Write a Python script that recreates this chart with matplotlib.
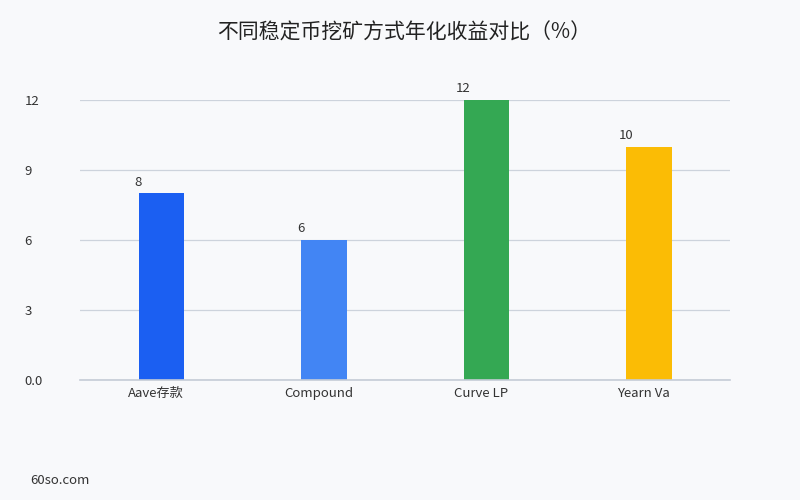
import matplotlib
matplotlib.use("Agg")
import matplotlib.pyplot as plt
from matplotlib.transforms import ScaledTranslation

plt.rcParams['font.family'] = ['Noto Sans CJK SC', 'DejaVu Sans']

categories = ["Aave存款", "Compound", "Curve LP", "Yearn Va"]
values = [8, 6, 12, 10]
colors = ["#1b5ff2", "#4285f4", "#34a853", "#fbbc05"]
yticks = [0, 3, 6, 9, 12]
yticklabels = ["0.0", "3", "6", "9", "12"]
title = "不同稳定币挖矿方式年化收益对比（%）"
footer = "60so.com"

bg = "#f8f9fb"
fig = plt.figure(figsize=(8, 5), dpi=100, facecolor=bg)
ax = fig.add_axes([0.1, 0.24, 0.8125, 0.56], facecolor=bg)

x = list(range(len(categories)))
bars = ax.bar(x, values, width=0.28, color=colors, zorder=3)
for xi, v in zip(x, values):
    ax.text(xi - 0.14, v + 0.2, str(v), ha='center', va='bottom', fontsize=9.5, color="#333333")

ax.set_xlim(-0.5, len(categories) - 0.5)
ax.set_ylim(0, 12)
ax.set_yticks(yticks)
ax.set_yticklabels(yticklabels, ha='left')
ax.tick_params(axis='y', length=0, pad=40, labelsize=9.5, labelcolor="#333333")
ax.set_xticks(x)
ax.set_xticklabels(categories)
ax.tick_params(axis='x', length=0, pad=5, labelsize=9.5, labelcolor="#333333")
shift = ScaledTranslation(-5 / 100, 0, fig.dpi_scale_trans)
for lbl in ax.get_xticklabels():
    lbl.set_transform(lbl.get_transform() + shift)
ax.grid(axis='y', color="#cdd3dc", linewidth=0.9, zorder=0)
for s in ax.spines.values():
    s.set_visible(False)
ax.axhline(0, color="#c5ccd6", linewidth=1.2, zorder=4, clip_on=False)

fig.text(0.505, 0.934, title, ha='center', va='center', fontsize=15, color="#222222")
fig.text(0.0375, 0.04, footer, ha='left', va='center', fontsize=9.5, color="#333333")

fig.savefig("out.png", dpi=100, facecolor=bg)
